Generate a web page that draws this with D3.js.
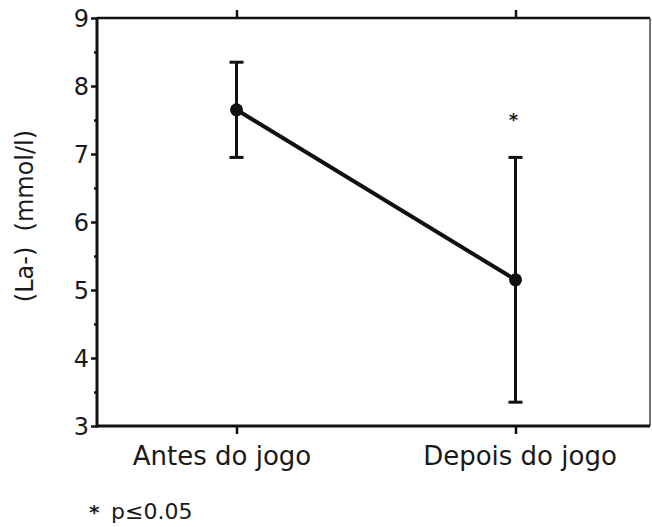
<!DOCTYPE html>
<html>
<head>
<meta charset="utf-8">
<script src="https://cdn.jsdelivr.net/npm/d3@7"></script>
<style>
  body { margin: 0; background: #fff; }
  svg text { font-family: "DejaVu Sans", sans-serif; fill: #1a1a1a; }
</style>
</head>
<body>
<svg id="chart"></svg>
<script>
// data
const categories = ["Antes do jogo", "Depois do jogo"];
const means = [7.65, 5.15];
const errors = [0.7, 1.8];
const significant = [false, true];
const yTicks = [3, 4, 5, 6, 7, 8, 9];
const yMinorTicks = [3.5, 4.5, 5.5, 6.5, 7.5, 8.5];
const yTitle = "(La-)  (mmol/l)";
const footnote = "p≤0.05";

const width = 652;
const height = 527;
const margin = { left: 97, right: 2, top: 18, bottom: 101 };
const plotRight = width - margin.right;
const plotBottom = height - margin.bottom;

const data = categories.map((c, i) => ({
  cat: c,
  mean: means[i],
  err: errors[i],
  sig: significant[i],
}));

const svg = d3
  .select("#chart")
  .attr("width", width)
  .attr("height", height);

const x = d3
  .scalePoint()
  .domain(categories)
  .range([margin.left, plotRight + 5])
  .padding(0.5);

const y = d3
  .scaleLinear()
  .domain([3, 9])
  .range([plotBottom, margin.top]);

// frame
const frame = svg.append("g").attr("stroke", "#111").attr("fill", "none");
frame
  .append("line")
  .attr("x1", margin.left).attr("x2", plotRight)
  .attr("y1", margin.top).attr("y2", margin.top)
  .attr("stroke-width", 2.5);
frame
  .append("line")
  .attr("x1", plotRight).attr("x2", plotRight)
  .attr("y1", margin.top).attr("y2", plotBottom)
  .attr("stroke-width", 1.5)
  .attr("stroke", "#444");
frame
  .append("line")
  .attr("x1", margin.left).attr("x2", plotRight)
  .attr("y1", plotBottom).attr("y2", plotBottom)
  .attr("stroke-width", 3);
frame
  .append("line")
  .attr("x1", margin.left).attr("x2", margin.left)
  .attr("y1", margin.top - 1).attr("y2", plotBottom + 1.5)
  .attr("stroke-width", 3);

// axes
const xAxisBottom = svg
  .append("g")
  .attr("transform", "translate(0," + plotBottom + ")")
  .call(d3.axisBottom(x).tickSize(8).tickPadding(13));
xAxisBottom.select(".domain").remove();
xAxisBottom.selectAll("line").attr("stroke", "#111").attr("stroke-width", 2.5);
xAxisBottom
  .selectAll("text")
  .attr("font-size", 26)
  .attr("dx", (d, i) => (i === 0 ? -15 : 4));

const xAxisTop = svg
  .append("g")
  .attr("transform", "translate(0," + margin.top + ")")
  .call(d3.axisTop(x).tickSize(8).tickFormat(""));
xAxisTop.select(".domain").remove();
xAxisTop.selectAll("line").attr("stroke", "#111").attr("stroke-width", 2.5);

const yAxis = svg
  .append("g")
  .attr("transform", "translate(" + margin.left + ",0)")
  .call(
    d3.axisLeft(y).tickValues(yTicks).tickSize(6).tickPadding(2).tickFormat(d3.format("d"))
  );
yAxis.select(".domain").remove();
yAxis.selectAll("line").attr("stroke", "#111").attr("stroke-width", 2.5);
yAxis.selectAll("text").attr("font-size", 24).attr("dy", "0.36em");

const yMinor = svg
  .append("g")
  .attr("transform", "translate(" + margin.left + ",0)")
  .call(d3.axisLeft(y).tickValues(yMinorTicks).tickSize(3).tickFormat(""));
yMinor.select(".domain").remove();
yMinor.selectAll("line").attr("stroke", "#111").attr("stroke-width", 2.5);

// y title
svg
  .append("text")
  .attr("transform", "translate(33," + (margin.top + 198) + ") rotate(-90)")
  .attr("text-anchor", "middle")
  .attr("font-size", 24)
  .style("white-space", "pre")
  .text(yTitle);

// error bars
const capW = 7;
const bars = svg.append("g").attr("stroke", "#111").attr("stroke-width", 3);
bars
  .selectAll(".bar")
  .data(data)
  .join("line")
  .attr("class", "bar")
  .attr("x1", (d) => x(d.cat))
  .attr("x2", (d) => x(d.cat))
  .attr("y1", (d) => y(d.mean + d.err))
  .attr("y2", (d) => y(d.mean - d.err));
bars
  .selectAll(".capTop")
  .data(data)
  .join("line")
  .attr("class", "capTop")
  .attr("x1", (d) => x(d.cat) - capW)
  .attr("x2", (d) => x(d.cat) + capW)
  .attr("y1", (d) => y(d.mean + d.err))
  .attr("y2", (d) => y(d.mean + d.err));
bars
  .selectAll(".capBottom")
  .data(data)
  .join("line")
  .attr("class", "capBottom")
  .attr("x1", (d) => x(d.cat) - capW)
  .attr("x2", (d) => x(d.cat) + capW)
  .attr("y1", (d) => y(d.mean - d.err))
  .attr("y2", (d) => y(d.mean - d.err));

// mean line
const line = d3
  .line()
  .x((d) => x(d.cat))
  .y((d) => y(d.mean));
svg
  .append("path")
  .datum(data)
  .attr("d", line)
  .attr("fill", "none")
  .attr("stroke", "#111")
  .attr("stroke-width", 4);

svg
  .selectAll(".dot")
  .data(data)
  .join("circle")
  .attr("class", "dot")
  .attr("cx", (d) => x(d.cat))
  .attr("cy", (d) => y(d.mean))
  .attr("r", 6.5)
  .attr("fill", "#111");

// significance marks
svg
  .selectAll(".sig")
  .data(data.filter((d) => d.sig))
  .join("text")
  .attr("class", "sig")
  .attr("x", (d) => x(d.cat) - 2)
  .attr("y", (d) => y(d.mean + d.err) - 31)
  .attr("text-anchor", "middle")
  .attr("font-size", 18)
  .attr("font-weight", "bold")
  .text("*");

// footnote
const note = svg.append("g").attr("transform", "translate(0,519)");
note.append("text").attr("x", 89).attr("font-size", 20).attr("font-weight", "bold").text("*");
note.append("text").attr("x", 111).attr("font-size", 22).text(footnote);
</script>
</body>
</html>
